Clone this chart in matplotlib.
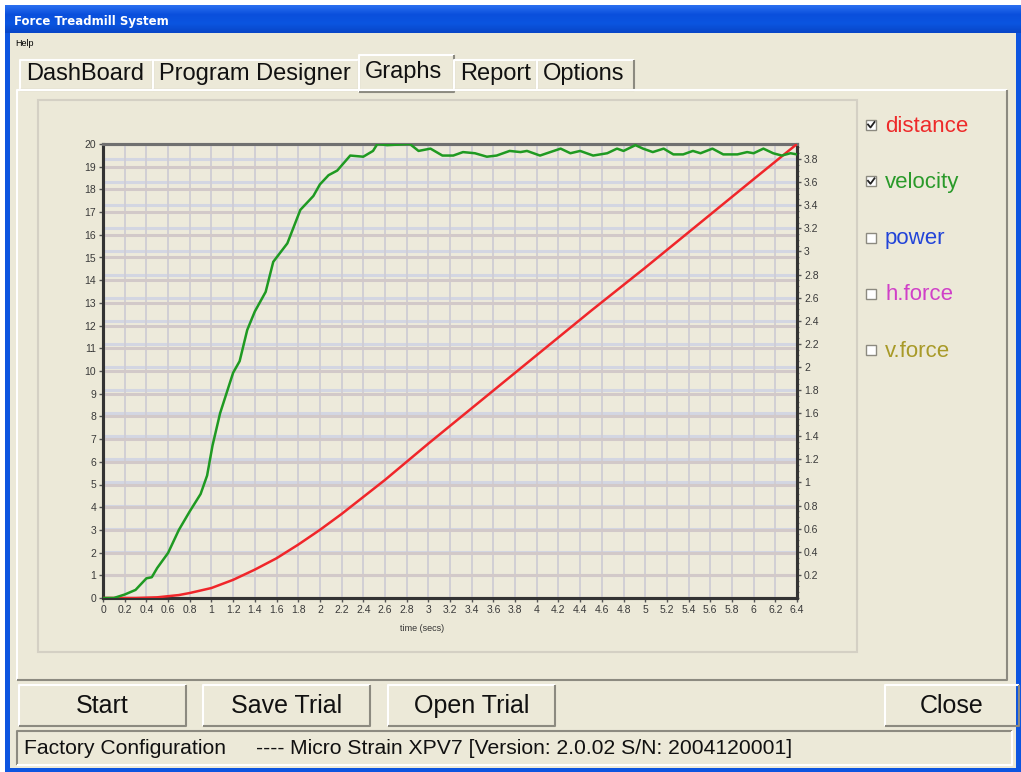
import matplotlib.pyplot as plt
import numpy as np
from matplotlib.patches import Rectangle
from matplotlib.colors import LinearSegmentedColormap
from matplotlib.ticker import MultipleLocator, FormatStrFormatter

# distance (m, left axis)
time_dist = [0.0, 0.3, 0.5, 0.7, 0.8, 1.0, 1.2, 1.4, 1.6, 1.8, 2.0, 2.2, 2.4,
             2.6, 2.8, 3.0, 3.5, 4.0, 4.5, 5.0, 5.5, 6.0, 6.4]
distance = [0.0, 0.0, 0.03, 0.13, 0.22, 0.44, 0.8, 1.25, 1.75, 2.35, 3.0, 3.7,
            4.45, 5.2, 6.0, 6.8, 8.75, 10.7, 12.65, 14.55, 16.5, 18.45, 20.0]

# velocity (m/s, right axis)
time_vel = [0.0, 0.1, 0.2, 0.3, 0.4, 0.45, 0.5, 0.6, 0.7, 0.8, 0.9, 0.96, 1.01,
            1.08, 1.2, 1.26, 1.33, 1.4, 1.5, 1.57, 1.7, 1.82, 1.94, 2.0, 2.08,
            2.16, 2.28, 2.4, 2.49, 2.53, 2.62, 2.83, 2.91, 3.02, 3.13, 3.23,
            3.32, 3.43, 3.54, 3.63, 3.75, 3.85, 3.91, 4.03, 4.22, 4.31, 4.4,
            4.52, 4.65, 4.74, 4.8, 4.91, 4.98, 5.07, 5.17, 5.26, 5.35, 5.44,
            5.51, 5.62, 5.72, 5.85, 5.94, 6.0, 6.09, 6.18, 6.26, 6.34, 6.4]
velocity = [0.0, 0.0, 0.03, 0.07, 0.17, 0.18, 0.26, 0.39, 0.59, 0.75, 0.9,
            1.06, 1.32, 1.6, 1.95, 2.05, 2.32, 2.48, 2.65, 2.91, 3.07, 3.36,
            3.48, 3.58, 3.66, 3.70, 3.83, 3.82, 3.87, 3.93, 3.92, 3.93, 3.87,
            3.89, 3.83, 3.83, 3.86, 3.85, 3.82, 3.83, 3.87, 3.86, 3.87, 3.83,
            3.89, 3.85, 3.87, 3.83, 3.85, 3.89, 3.87, 3.92, 3.89, 3.86, 3.89,
            3.84, 3.84, 3.87, 3.85, 3.89, 3.84, 3.84, 3.86, 3.85, 3.89, 3.85,
            3.83, 3.85, 3.84]

tab_names = ['DashBoard', 'Program Designer', 'Graphs', 'Report', 'Options']
series_names = ['distance', 'velocity', 'power', 'h.force', 'v.force']
series_colors = ['#ee2a2a', '#2a9a2a', '#2244d8', '#d040c8', '#a89a28']
series_checked = [True, True, False, False, False]
button_names = ['Start', 'Save Trial', 'Open Trial', 'Close']

ui_font = 'Liberation Sans'
beige = '#ece9d8'

fig = plt.figure(figsize=(10.21, 7.72), dpi=100)
fig.patch.set_facecolor('white')

# window chrome, drawn in pixel coordinates
bg = fig.add_axes([0, 0, 1, 1])
bg.set_zorder(-5)
bg.axis('off')


def box(x0, y0, x1, y1, face, edge='none', lw=1.0, z=1):
    bg.add_patch(Rectangle((x0, y0), x1 - x0, y1 - y0, facecolor=face,
                           edgecolor=edge, lw=lw, zorder=z))


def bevel(x0, y0, x1, y1, light='white', dark='#8c8a80', lw=1.5, z=3):
    bg.plot([x0, x0, x1], [y1, y0, y0], color=light, lw=lw, zorder=z,
            solid_capstyle='butt')
    bg.plot([x0, x1, x1], [y1, y1, y0], color=dark, lw=lw, zorder=z,
            solid_capstyle='butt')


box(5, 5, 1021, 772, '#0d55e0')
cmap = LinearSegmentedColormap.from_list('xp', ['#2a6ff0', '#0a4fdc', '#0b55e0', '#0846c8'])
bg.imshow(np.linspace(0, 1, 30).reshape(-1, 1), cmap=cmap, aspect='auto',
          extent=(5, 1021, 33, 5), zorder=2)
box(10, 33, 1016, 768, beige, z=2)
bg.text(14, 21, 'Force Treadmill System', color='white', fontsize=8.5,
        fontweight='bold', va='center', family='DejaVu Sans', zorder=4)
bg.text(15, 44, 'Help', fontsize=6.5, va='center', family=ui_font, zorder=4)

# tabs
tab_edges = [20, 153, 359, 454, 537, 634]
for i, name in enumerate(tab_names):
    x0, x1 = tab_edges[i], tab_edges[i + 1]
    top = 55 if name == 'Graphs' else 60
    box(x0, top, x1, 90, beige, z=2)
    bevel(x0, top, x1, 90 if name != 'Graphs' else 92)
    bg.text(x0 + 6, 74 if name != 'Graphs' else 72, name, fontsize=17,
            family=ui_font, va='center', color='#111111', zorder=4)

bevel(17, 90, 1007, 680)
box(38, 100, 857, 652, 'none', edge='#d4d0c4', lw=1.5, z=3)

# series checklist
for i, name in enumerate(series_names):
    yc = 125 + i * 56.3
    box(866, yc - 5, 876, yc + 5, 'white', edge='#8c8a80', lw=1, z=4)
    if series_checked[i]:
        bg.plot([868, 870.5, 874.5], [yc - 0.5, yc + 2.5, yc - 3], color='#222222',
                lw=1.3, zorder=5)
    bg.text(885, yc + 1, name, color=series_colors[i], fontsize=16, family=ui_font,
            va='center', zorder=4)

# buttons
button_edges = [(19, 186), (203, 370), (388, 555), (885, 1019)]
for name, (x0, x1) in zip(button_names, button_edges):
    bevel(x0, 685, x1, 726)
    bg.text((x0 + x1) / 2, 706, name, fontsize=18, family=ui_font, ha='center',
            va='center', color='#111111', zorder=4)

# status bar
bevel(17, 731, 1012, 765, light='#8c8a80', dark='white')
bg.text(24, 748, 'Factory Configuration', fontsize=15.2, family=ui_font,
        va='center', color='#111111', zorder=4)
bg.text(256, 748, '----', fontsize=15.2, family=ui_font, va='center',
        color='#111111', zorder=4)
bg.text(290, 748, 'Micro Strain XPV7 [Version: 2.0.02 S/N: 2004120001]',
        fontsize=15.2, family=ui_font, va='center', color='#111111', zorder=4)

bg.set_xlim(0, 1021)
bg.set_ylim(772, 0)

# chart
pos = [103 / 1021, 174 / 772, 694 / 1021, 454 / 772]
ax = fig.add_axes(pos)
ax2 = ax.twinx()
ax2.set_zorder(1)
ax.set_zorder(2)
ax.patch.set_visible(False)
ax2.patch.set_visible(True)
ax2.patch.set_facecolor('#edeadb')

ax.set_xlim(0, 6.4)
ax.set_ylim(0, 20)
ax2.set_ylim(0, 3.93)

ax.set_xticks(np.arange(0, 6.41, 0.2))
ax.xaxis.set_major_formatter(FormatStrFormatter('%g'))
ax.set_yticks(range(0, 21))
ax2.set_yticks(np.arange(0.2, 3.81, 0.2))
ax2.yaxis.set_major_formatter(FormatStrFormatter('%g'))
ax2.yaxis.set_minor_locator(MultipleLocator(0.05))

ax.grid(axis='x', color='#cfcdd4', lw=1.3)
ax.grid(axis='y', color='#d2c9c9', lw=2.2)
ax2.grid(axis='y', color='#d3d6e2', lw=2.2)
ax.set_axisbelow(True)

ax.plot(time_dist, distance, color='#f0262a', lw=1.8, zorder=3)
ax.plot(time_vel, velocity, color='#1f9a22', lw=1.8, zorder=4,
        transform=ax2.transData)

for a in (ax, ax2):
    a.tick_params(axis='both', which='major', labelsize=7.5, labelcolor='#3a3a3a',
                  color='#555555', length=3, width=1, pad=2)
    a.tick_params(axis='y', which='minor', length=1.5, width=0.8, color='#777777')
    for t in a.get_xticklabels() + a.get_yticklabels():
        t.set_family(ui_font)
    for side in ['left', 'bottom', 'right']:
        a.spines[side].set_color('#333333')
        a.spines[side].set_linewidth(2.2)
    a.spines['top'].set_color('#707070')
    a.spines['top'].set_linewidth(2.2)

ax.set_xlabel('time (secs)', fontsize=6.5, family=ui_font, color='#333333')
ax.xaxis.set_label_coords((422 - 103) / 694, -0.058)

fig.savefig('out.png', dpi=100, facecolor=fig.get_facecolor())
